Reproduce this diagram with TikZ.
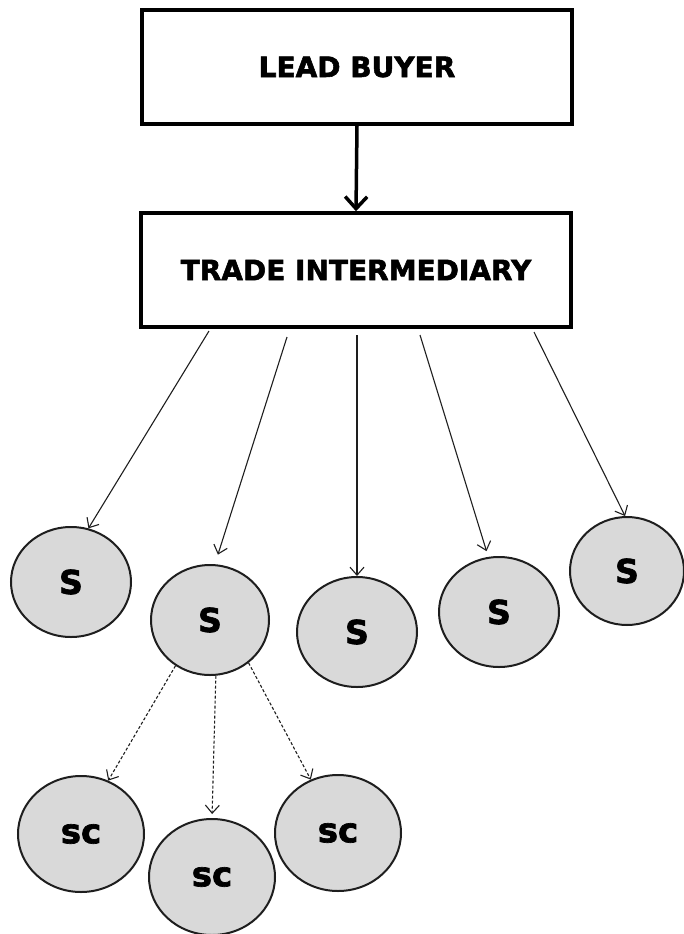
\documentclass[tikz,border=0pt]{standalone}
\usepackage{fontspec}
\setmainfont{DejaVu Sans}[BoldFeatures={FakeBold=2}]
\usetikzlibrary{shapes.geometric,arrows.meta}
\definecolor{nodegray}{HTML}{D9D9D9}
\definecolor{edgegray}{HTML}{1E1E1E}
\tikzset{
  box/.style={draw=black, line width=3.5pt, minimum width=430pt, minimum height=114pt, inner sep=0pt,
    font=\fontsize{28}{30}\selectfont\bfseries},
  sup/.style={ellipse, draw=edgegray, line width=2pt, fill=nodegray, inner sep=0pt,
    minimum width=120pt, minimum height=110pt, font=\fontsize{33}{35}\selectfont\bfseries},
  subc/.style={ellipse, draw=edgegray, line width=2pt, fill=nodegray, inner sep=0pt,
    minimum width=126pt, minimum height=116pt, font=\fontsize{34}{36}\selectfont\bfseries},
  mainarrow/.style={line width=3.5pt, -{Straight Barb[length=12pt,width=22pt,line width=3.5pt]}},
  thinarrow/.style={line width=1.1pt, draw=edgegray, -{Straight Barb[length=8pt,width=14pt,line width=1.1pt]}},
  dasharrow/.style={thinarrow, dash pattern=on 3pt off 2pt}
}
\begin{document}
\begin{tikzpicture}[x=1pt,y=-1pt]
\useasboundingbox (0,0) rectangle (684,934);
% boxes
\node[box] (lb) at (357,67) {LEAD BUYER};
\node[box] (ti) at (356,270) {TRADE INTERMEDIARY};
\draw[mainarrow] (lb.south) -- (ti.north);
% suppliers
\node[sup] (s1) at (71,582) {S};
\node[sup, minimum width=118pt] (s2) at (210,620) {S};
\node[sup] (s3) at (357,632) {S};
\node[sup] (s4) at (499,612) {S};
\node[sup, minimum width=114pt, minimum height=108pt] (s5) at (627,571) {S};
% sub-contractors
\node[subc] (sc1) at (81,834) {sc};
\node[subc] (sc2) at (212,877) {sc};
\node[subc] (sc3) at (338,833) {sc};
% start points below the intermediary box
\coordinate (a1) at (209,331);
\coordinate (a2) at (287,337);
\coordinate (a3) at (357,335);
\coordinate (a4) at (420,335);
\coordinate (a5) at (534,332);
\draw[thinarrow] (a1) -- (s1.72);
\draw[thinarrow, shorten >=10pt] (a2) -- (s2.85);
\draw[thinarrow] (a3) -- (s3.north);
\draw[thinarrow, shorten >=6pt] (a4) -- (s4.101);
\draw[thinarrow] (a5) -- (s5.92);
% dashed arrows to sub-contractors
\draw[dasharrow] (s2.233) -- (sc1.63);
\draw[dasharrow, shorten >=4pt] (s2.276) -- (sc2.north);
\draw[dasharrow] (s2.312) -- (sc3.117);
\end{tikzpicture}
\end{document}
